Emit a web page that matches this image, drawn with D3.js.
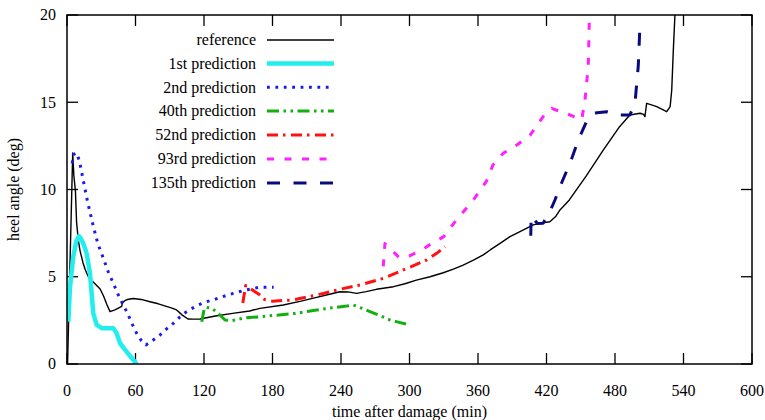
<!DOCTYPE html>
<html><head><meta charset="utf-8">
<script src="https://cdn.jsdelivr.net/npm/d3@7/dist/d3.min.js"></script>
<style>body{margin:0;background:#fff;} text{font-family:"Liberation Serif","Times New Roman",serif;font-size:16px;fill:#000;}</style>
</head><body>
<svg id="c" width="765" height="420"></svg>
<script>
const xTicks=[0,60,120,180,240,300,360,420,480,540,600];
const yTicks=[0,5,10,15,20];
const seriesNames=["reference","1st prediction","2nd prediction","40th prediction","52nd prediction","93rd prediction","135th prediction"];
const reference=[[0.5,0],[5,12.1],[6,10.8],[7.4,9.9],[8.4,8.1],[9.9,7.1],[11.4,6.5],[14,5.8],[16,5.4],[18.7,5.0],[21,4.8],[23,4.7],[26,4.5],[29,4.3],[32,3.9],[35,3.4],[37.7,3.0],[42,3.1],[47.9,3.3],[48.5,3.5],[50,3.6],[53,3.7],[58,3.75],[65,3.7],[72.7,3.57],[80,3.45],[87,3.3],[92,3.2],[96,3.1],[101,2.8],[106,2.58],[110,2.57],[116.5,2.58],[130,2.75],[145,2.9],[160,3.04],[169,3.19],[189.5,3.38],[205,3.6],[218.7,3.82],[230,4.0],[239,4.14],[246,4.13],[253.7,4.05],[262,4.15],[271,4.28],[286,4.43],[296,4.6],[306,4.81],[318,5.0],[329.6,5.23],[339,5.45],[347,5.67],[356,5.95],[364.6,6.25],[371,6.55],[379,6.9],[388,7.3],[396.8,7.58],[408.4,7.97],[415,8.07],[423,8.15],[428,8.45],[431.8,8.83],[440,9.4],[455,10.8],[469.7,12.26],[484,13.6],[493,14.27],[502,14.37],[505,14.3],[506.2,14.17],[507.7,14.94],[512,14.85],[516.5,14.75],[525.3,14.46],[528.3,14.75],[529.7,15.7],[531.1,18],[532.5,20]];
const pred1=[[1.2,2.42],[2.6,4.4],[5.5,6.15],[8,7.0],[10.5,7.33],[12,7.2],[14.3,6.9],[17.2,6.34],[20.1,5.2],[21.6,4.05],[23,2.9],[26,2.24],[30.4,2.05],[35,2.05],[40.6,2.05],[43.5,1.76],[46.4,1.19],[52.3,0.7],[56,0.4],[61,0.0]];
const pred2=[[4.6,11.5],[5.5,12.0],[8.5,12.1],[11,11.6],[14.3,10.5],[18,9.3],[23,7.9],[27,6.9],[31.8,6.06],[36,5.3],[40.6,4.62],[46,3.8],[52.3,3.0],[57,2.3],[61,1.76],[65,1.35],[69.2,1.09],[75,1.35],[81.5,1.66],[87,2.0],[93.1,2.33],[99,2.7],[104.8,3.0],[110,3.2],[115,3.38],[121,3.55],[128,3.67],[136,3.85],[145.7,4.05],[157,4.25],[169,4.4],[181,4.4]];
const pred40=[[118,2.42],[120,3.1],[121,3.25],[126.7,3.2],[132.5,2.9],[138.4,2.52],[144,2.48],[156,2.65],[167,2.7],[183.7,2.8],[200,2.9],[218.7,3.09],[232,3.22],[245,3.32],[250.8,3.38],[258,3.2],[265.4,3.0],[275,2.75],[283,2.52],[290,2.4],[297,2.29]];
const pred52=[[154,3.5],[156.5,4.5],[160,4.35],[169,3.95],[173,3.7],[180,3.6],[198,3.67],[218.7,3.95],[239,4.28],[256.6,4.53],[277,4.91],[294.6,5.39],[315,5.96],[323.8,6.34],[331,6.72]];
const pred93=[[277,5.6],[278.5,6.9],[291,6.1],[300,6.2],[310,6.5],[318,6.85],[330,7.3],[341,8.25],[356,9.4],[367.6,10.5],[373,11.4],[382,12.07],[394,12.55],[405.5,13.1],[417,14.17],[424.5,14.65],[440.6,14.27],[450.8,14.0],[453.7,15.1],[456.6,17.1],[457.5,19.7]];
const pred135=[[406.2,7.35],[406.6,8.5],[412,8.05],[417,8.06],[423,8.73],[427.4,9.4],[434,10.5],[440.6,11.5],[447.9,12.84],[455,13.89],[461,14.37],[472.7,14.46],[481.5,14.27],[493,14.27],[497.5,14.94],[500.4,17.1],[501.9,19.5]];

const allData=[reference,pred1,pred2,pred40,pred52,pred93,pred135];
const colors=["#000000","#22eeee","#1a1aee","#11b011","#ff1111","#ff22ff","#0a0a80"];
const widths=[1.4,4.5,3,3,3,3,3];
const dashes=[null,null,"2.8,5.6","12,4.5,2.5,4.5,2.5,4.5","11,5,2.5,5.5","7,10.5","13,13.5"];

const svg=d3.select("#c");
const L=67,R=752,T=15,B=364;
const x=d3.scaleLinear().domain([0,600]).range([L,R]);
const y=d3.scaleLinear().domain([0,20]).range([B,T]);

svg.append("clipPath").attr("id","clip").append("rect").attr("x",L).attr("y",T).attr("width",R-L).attr("height",B-T);

const tl=11;
const g=svg.append("g");
// ticks
xTicks.forEach(t=>{
  g.append("line").attr("x1",x(t)).attr("x2",x(t)).attr("y1",B).attr("y2",B-tl).attr("stroke","#000").attr("stroke-width",1.3);
  g.append("line").attr("x1",x(t)).attr("x2",x(t)).attr("y1",T).attr("y2",T+tl).attr("stroke","#000").attr("stroke-width",1.3);
  g.append("text").attr("x",x(t)).attr("y",396).attr("text-anchor","middle").text(t);
});
yTicks.forEach(t=>{
  g.append("line").attr("x1",L).attr("x2",L+tl).attr("y1",y(t)).attr("y2",y(t)).attr("stroke","#000").attr("stroke-width",1.3);
  g.append("line").attr("x1",R).attr("x2",R-tl).attr("y1",y(t)).attr("y2",y(t)).attr("stroke","#000").attr("stroke-width",1.3);
  g.append("text").attr("x",56).attr("y",y(t)).attr("dy","0.33em").attr("text-anchor","end").text(t);
});

const line=d3.line().x(d=>x(d[0])).y(d=>y(d[1]));
const lg=svg.append("g").attr("clip-path","url(#clip)");
allData.forEach((d,i)=>{
  const p=lg.append("path").attr("d",line(d)).attr("fill","none").attr("stroke",colors[i]).attr("stroke-width",widths[i]).attr("stroke-linejoin","round");
  if(dashes[i]) p.attr("stroke-dasharray",dashes[i]);
});

svg.append("rect").attr("x",L).attr("y",T).attr("width",R-L).attr("height",B-T).attr("fill","none").attr("stroke","#000").attr("stroke-width",1.5);

// legend
const rows=[40,63.5,87.3,111,135,159,183];
seriesNames.forEach((n,i)=>{
  svg.append("text").attr("x",256).attr("y",rows[i]).attr("dy","0.33em").attr("text-anchor","end").text(n);
  const l=svg.append("line").attr("x1",267).attr("x2",334).attr("y1",rows[i]).attr("y2",rows[i]).attr("stroke",colors[i]).attr("stroke-width",widths[i]);
  if(dashes[i]) l.attr("stroke-dasharray",dashes[i]);
});

svg.append("text").attr("x",(L+R)/2).attr("y",417).attr("text-anchor","middle").text("time after damage (min)");
svg.append("text").attr("transform","translate(19,"+((T+B)/2)+") rotate(-90)").attr("text-anchor","middle").text("heel angle (deg)");
</script>
</body></html>
